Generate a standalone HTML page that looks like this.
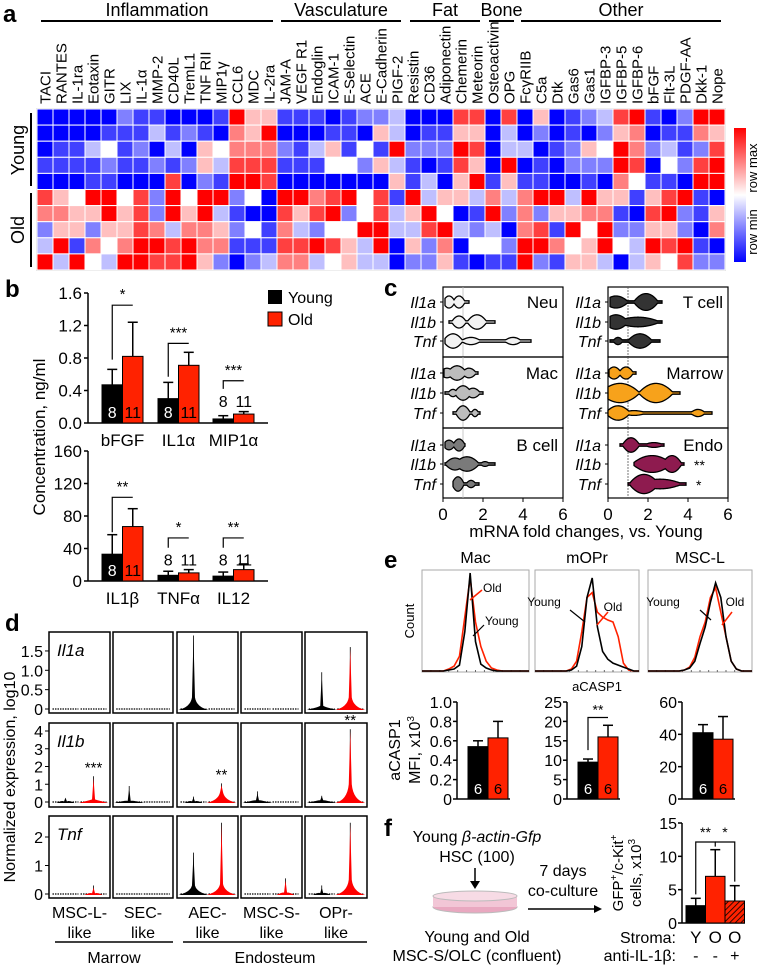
<!DOCTYPE html>
<html><head><meta charset="utf-8"><style>
html,body{margin:0;padding:0;background:#fff;}
svg{display:block;font-family:"Liberation Sans",Arial,sans-serif;}
</style></head><body>
<svg id="fig" width="757" height="968" viewBox="0 0 757 968" xmlns="http://www.w3.org/2000/svg">
<defs>
<pattern id="hatch" width="4" height="4" patternUnits="userSpaceOnUse" patternTransform="rotate(45)"><rect width="4" height="4" fill="#ff2200"/><line x1="0" y1="0" x2="0" y2="4" stroke="#000" stroke-width="1.6"/></pattern>
<linearGradient id="rowgrad" x1="0" y1="1" x2="0" y2="0"><stop offset="0" stop-color="#0000ff"/><stop offset="0.5" stop-color="#ffffff"/><stop offset="1" stop-color="#ff0000"/></linearGradient>
</defs>
<g id="root"></g>
</svg>
<script>
// ===== Panel a data =====
const heatCols=["TACI","RANTES","IL-1ra","Eotaxin","GITR","LIX","IL-1\u03b1","MMP-2","CD40L","TremL1","TNF RII","MIP1\u03b3","CCL6","MDC","IL-2ra","JAM-A","VEGF R1","Endoglin","ICAM-1","E-Selectin","ACE","E-Cadherin","PIGF-2","Resistin","CD36","Adiponectin","Chemerin","Meteorin","Osteoactivin","OPG","Fc\u03b3RIIB","C5a","Dtk","Gas6","Gas1","IGFBP-3","IGFBP-5","IGFBP-6","bFGF","Flt-3L","PDGF-AA","Dkk-1","Nope"];
const heatRows=["Y1","Y2","Y3","Y4","Y5","O1","O2","O3","O4","O5"];
const heatVals=[
[0,0,0,0,0,2,1,1,0,0,0,1,8,5,5,1,1,1,0,1,2,2,3,0,0,0,7,7,0,7,0,5,0,1,2,3,7,8,1,0,2,8,8],
[0,0,0,0,1,1,1,3,1,2,1,0,6,5,8,0,0,0,1,1,0,5,3,0,1,1,5,5,0,3,0,2,0,1,0,2,5,6,0,1,1,6,5],
[0,1,1,3,4,1,2,0,3,0,5,4,6,6,6,2,1,3,5,1,4,1,8,2,2,2,8,7,0,3,3,0,1,2,5,4,8,6,2,3,1,2,7],
[1,1,1,1,2,1,1,2,1,2,5,3,7,7,7,1,1,1,4,4,2,5,3,1,0,1,7,5,0,8,0,1,0,2,2,2,8,7,0,4,2,7,8],
[0,0,0,1,1,0,0,0,7,0,2,1,8,8,7,0,0,0,0,0,0,0,5,1,3,0,5,8,1,5,1,1,0,0,1,0,6,4,1,1,0,8,8],
[7,5,4,8,8,4,7,2,8,4,8,8,2,4,0,8,8,6,7,8,4,7,1,8,3,5,5,3,6,3,6,8,8,3,8,5,5,1,5,7,8,1,0],
[6,6,5,5,8,5,7,2,8,5,8,3,1,0,0,7,5,7,8,2,4,7,3,5,8,4,0,1,8,2,6,2,5,5,6,6,1,0,7,8,2,1,5],
[2,5,5,2,5,5,7,6,3,6,6,5,2,4,1,6,3,2,4,4,8,8,3,3,7,8,3,2,3,0,6,7,1,8,4,8,2,2,5,5,2,0,6],
[3,8,1,6,4,6,8,8,7,8,6,6,1,1,1,7,7,8,7,5,3,8,0,5,2,6,0,4,4,2,8,8,6,4,5,8,4,3,8,7,8,1,0],
[8,3,8,4,3,8,8,7,7,8,5,2,0,2,3,6,6,3,4,5,3,3,0,2,2,5,1,0,1,1,8,2,1,5,5,3,0,3,5,4,7,2,2]];
const heatGroups=["Inflammation","Vasculature","Fat","Bone","Other"];
const heatGroupSizes=[15,8,5,2,13];
// ===== Panel b data =====
const bCatsTop=["bFGF","IL1\u03b1","MIP1\u03b1"];
const bYoungTop=[0.47,0.30,0.05];
const bYoungTopErr=[0.19,0.20,0.04];
const bOldTop=[0.82,0.71,0.11];
const bOldTopErr=[0.42,0.16,0.03];
const bTicksTop=["0.0","0.4","0.8","1.2","1.6"];
const bStarsTop=["*","***","***"];
const bBracketTop=[1.45,0.98,0.52];
const bBracketStartTop=[0.78,0.57,0.42];
const bCatsBot=["IL1\u03b2","TNF\u03b1","IL12"];
const bYoungBot=[33,7,6];
const bYoungBotErr=[24,5,5];
const bOldBot=[67,10,14];
const bOldBotErr=[22,4,7];
const bTicksBot=["0","40","80","120","160"];
const bStarsBot=["**","*","**"];
const bBracketBot=[103,53,53];
const bBracketStartBot=[60,41,41];
const bN=["8","11"];
// ===== Panel c data: [min,max, bulges [center, halfHeightPx, halfWidth]] =====
const cPanels=["Neu","Mac","B cell","T cell","Marrow","Endo"];
const cGenes=["Il1a","Il1b","Tnf"];
const cRange=[
[[0.1,1.3],[0.3,2.6],[0.1,4.4]],
[[0.05,1.75],[0.1,2.0],[0.5,1.85]],
[[0.1,1.1],[0.1,2.6],[0.5,1.8]],
[[0.1,2.7],[0.1,2.7],[0.1,2.6]],
[[0.05,1.4],[0.0,3.6],[0.0,5.2]],
[[0.6,2.8],[1.3,3.8],[1.0,3.9]]];
const cBulges=[
[[[0.3,5,0.25],[0.8,5,0.25]],[[0.8,5,0.3],[1.7,6,0.4]],[[0.5,6,0.4],[1.4,3,0.4],[3.5,3,0.35]]],
[[[0.2,4,0.3],[0.7,6,0.4],[1.3,4,0.3]],[[0.5,3,0.2],[1.0,6,0.35],[1.5,4,0.3]],[[1.0,6,0.3],[1.6,3,0.15]]],
[[[0.3,4,0.25],[0.8,5,0.25]],[[0.6,5,0.4],[1.2,6,0.5],[2.1,2,0.2]],[[0.75,6,0.25],[1.4,3,0.2]]],
[[[0.4,5,0.5],[1.9,7,0.5]],[[0.4,6,0.5],[1.5,4,0.9]],[[0.5,3,0.2],[1.6,6,0.5]]],
[[[0.3,5,0.3],[0.9,5,0.3]],[[0.6,8,0.8],[2.4,8,0.7]],[[0.5,6,0.5],[1.3,2,0.5],[4.5,3,0.3]]],
[[[1.15,6,0.35],[2.3,2,0.4]],[[2.2,7,0.8],[3.2,7,0.4]],[[1.8,8,0.6],[2.6,4,0.9]]]];
const cFills=["#f2f2f2","#bdbdbd","#7a7a7a","#333333","#f7a21b","#8e1b4f"];
const cStars=[["","",""],["","",""],["","",""],["","",""],["","",""],["","**","*"]];
const cTicks=[0,2,4,6];
// ===== Panel d data =====
const dCells=["MSC-L-like","SEC-like","AEC-like","MSC-S-like","OPr-like"];
const dGenes=["Il1a","Il1b","Tnf"];
const dYTicks=[[0,0.5,1.0,1.5],[0,1,2,3,4],[0,1,2]];
const dYTickLbl=[["0","0.5","1.0","1.5"],["0","1","2","3","4"],["0","1","2"]];
const dYoungMax=[[0,0,1.9,0,0.95],[0.2,0.9,0.3,0.6,0.35],[0,0,1.45,0,0.3]];
const dYoungBase=[[0,0,0.3,0,0.08],[0.02,0.06,0.03,0.1,0.1],[0,0,0.3,0,0.03]];
const dOldMax=[[0,0,0,0,1.6],[1.45,0,1.05,0,4.1],[0.3,0,2.5,0.55,2.5]];
const dOldBase=[[0,0,0,0,0.3],[0.15,0,0.55,0,1.0],[0.02,0,0.35,0.05,0.5]];
const dStars=[["","","","",""],["***","","**","","**"],["","","","",""]];
// ===== Panel e data =====
const eTitles=["Mac","mOPr","MSC-L"];
const eHistYoung=[
[0,0,0,0,0,0.01,0.02,0.06,0.4,1.0,0.3,0.07,0.03,0.01,0,0,0,0,0,0,0],
[0,0,0,0,0,0,0,0.01,0.05,0.25,0.75,0.95,0.45,0.2,0.12,0.08,0.06,0.04,0.02,0,0],
[0,0,0,0,0,0,0,0.01,0.03,0.1,0.28,0.45,0.7,0.9,0.75,0.35,0.1,0.02,0,0,0]];
const eHistOld=[
[0,0,0,0,0,0.02,0.05,0.15,0.55,0.95,0.5,0.25,0.1,0.03,0.01,0,0,0,0,0,0],
[0,0,0,0,0,0,0,0.02,0.1,0.4,0.75,0.8,0.6,0.55,0.52,0.5,0.35,0.08,0.01,0,0],
[0,0,0,0,0,0,0,0.01,0.04,0.14,0.35,0.5,0.75,0.85,0.6,0.35,0.1,0.02,0,0,0]];
const eYoung=[0.54,9.5,41];
const eYoungErr=[0.06,0.8,5];
const eOld=[0.63,16,37];
const eOldErr=[0.17,3,14];
const eMax=[1.0,25,60];
const eTicks=[["0","0.2","0.4","0.6","0.8","1.0"],["0","5","10","15","20","25"],["0","20","40","60"]];
const eN=["6","6"];
// ===== Panel f data =====
const fCats=["Y","O","O"];
const fAnti=["-","-","+"];
const fVals=[2.6,7.0,3.3];
const fErr=[1.1,4.0,2.3];
const fTicks=["0","5","10","15"];

const NS="http://www.w3.org/2000/svg";
const root=document.getElementById('root');
function mk(tag,attrs,parent,text){const e=document.createElementNS(NS,tag);for(const k in attrs)e.setAttribute(k,attrs[k]);if(text!==undefined)e.textContent=text;(parent||root).appendChild(e);return e;}
function grp(name,parent){const g=mk('g',{},parent);


return g;}
function txt(p,x,y,s,size,opts){const o=Object.assign({x:x,y:y,'font-size':size,fill:'#000'},opts||{});return mk('text',o,p,s);}

// panel letters
[["a",3,22],["b",5,297],["c",384,296],["d",5,631],["e",384,568],["f",384,836]].forEach(l=>{
const t=txt(root,l[1],l[2],l[0],24,{'font-weight':'bold'});


});

// ===== Panel a =====
(function(){
const g=grp('heatmap-panel');
const x0=37,y0=109,cw=16,rh=16.1;
function col(v){const t=v/8;let r,gg,b;if(t<0.5){const s=t/0.5;r=Math.round(255*s);gg=Math.round(255*s);b=255;}else{const s=(t-0.5)/0.5;r=255;gg=Math.round(255*(1-s));b=Math.round(255*(1-s));}return `rgb(${r},${gg},${b})`;}
mk('rect',{x:x0-1,y:y0-1,width:cw*heatCols.length+2,height:rh*10+2,fill:'#ddd'},g);
heatVals.forEach((row,ri)=>row.forEach((v,ci)=>{
const r=mk('rect',{x:x0+ci*cw,y:y0+ri*rh,width:cw,height:rh,fill:col(v),stroke:'#fff','stroke-width':1},g);


}));
heatCols.forEach((c,i)=>{
const t=txt(g,0,0,c,15,{transform:`translate(${x0+i*cw+cw/2+5.5},104) rotate(-90)`});


});
const gaps=[[41,273],[281,401],[410,480],[489,514],[521,721]];
heatGroups.forEach((name,i)=>{
const a=gaps[i][0],b=gaps[i][1];
mk('line',{x1:a,x2:b,y1:21,y2:21,stroke:'#000','stroke-width':2},g);
const t=txt(g,(a+b)/2,16,name,18,{'text-anchor':'middle'});


});
mk('line',{x1:31,x2:31,y1:113,y2:186,stroke:'#000','stroke-width':2},g);
mk('line',{x1:31,x2:31,y1:193,y2:267,stroke:'#000','stroke-width':2},g);
const ty=txt(g,0,0,'Young',18,{transform:'translate(24,150) rotate(-90)','text-anchor':'middle'});

const to=txt(g,0,0,'Old',18,{transform:'translate(24,230) rotate(-90)','text-anchor':'middle'});

const cb=mk('rect',{x:734,y:128,width:12,height:134,fill:'url(#rowgrad)'},g);

txt(g,0,0,'row max',13,{transform:'translate(757,168) rotate(-90)','text-anchor':'middle'});
txt(g,0,0,'row min',13,{transform:'translate(757,232) rotate(-90)','text-anchor':'middle'});
})();

// ===== Panel b =====
function barChart(g,ax,y0px,ymaxpx,maxv,cats,yv,ye,ov,oe,ticks,stars,brk,brkStart,catY){
const sy=v=>y0px-(v/maxv)*(y0px-ymaxpx);
mk('line',{x1:ax,x2:ax,y1:ymaxpx,y2:y0px,stroke:'#000','stroke-width':1.5},g);
mk('line',{x1:ax,x2:268,y1:y0px,y2:y0px,stroke:'#000','stroke-width':1.5},g);
ticks.forEach((t,i)=>{const y=sy(maxv*i/(ticks.length-1));mk('line',{x1:ax-4,x2:ax,y1:y,y2:y,stroke:'#000','stroke-width':1.5},g);txt(g,ax-6,y+6,t,17,{'text-anchor':'end'});});
const starts=[102,158,213];const bw=20.5;
cats.forEach((c,i)=>{
const xs=starts[i];
[[yv[i],ye[i],'#000',xs],[ov[i],oe[i],'#ff2200',xs+bw]].forEach((d,k)=>{
const x=d[3],top=sy(d[0]),et=sy(d[0]+d[1]);
mk('line',{x1:x+bw/2,x2:x+bw/2,y1:et,y2:top,stroke:'#000','stroke-width':1.5},g);
mk('line',{x1:x+bw/2-5,x2:x+bw/2+5,y1:et,y2:et,stroke:'#000','stroke-width':1.5},g);
const r=mk('rect',{x:x,y:top,width:bw,height:y0px-top,fill:d[2],stroke:'#000','stroke-width':1},g);


const tall=(y0px-top)>24;
if(tall)txt(g,x+bw/2,y0px-5,bN[k],16,{'text-anchor':'middle',fill:k?'#000':'#fff'});
else txt(g,x+bw/2,sy(brkStart[i])+18,bN[k],16,{'text-anchor':'middle'});
});
const ly=sy(brk[i]);
mk('polyline',{points:`${xs+bw/2},${sy(brkStart[i])} ${xs+bw/2},${ly} ${xs+bw+bw/2},${ly}`,fill:'none',stroke:'#000','stroke-width':1.2},g);
txt(g,xs+bw,ly-6,stars[i],15,{'text-anchor':'middle'});
const cl=txt(g,xs+bw,catY,c,17,{'text-anchor':'middle'});

});
}
(function(){
const g=grp('concentration-chart-top');
barChart(g,88,423,293,1.6,bCatsTop,bYoungTop,bYoungTopErr,bOldTop,bOldTopErr,bTicksTop,bStarsTop,bBracketTop,bBracketStartTop,446);
const g2=grp('concentration-chart-bottom');
barChart(g2,88,581,451,160,bCatsBot,bYoungBot,bYoungBotErr,bOldBot,bOldBotErr,bTicksBot,bStarsBot,bBracketBot,bBracketStartBot,604);
const yt=txt(root,0,0,'Concentration, ng/ml',17,{transform:'translate(45,437) rotate(-90)','text-anchor':'middle'});

const lg=grp('legend');
mk('rect',{x:268,y:290,width:14,height:14,fill:'#000'},lg);
mk('rect',{x:268,y:312,width:14,height:14,fill:'#ff2200',stroke:'#000','stroke-width':1},lg);
txt(lg,288,303,'Young',16);txt(lg,288,325,'Old',16);
})();

// ===== Panel c =====
(function(){
const g=grp('mrna-violin-panel');
const panels=[[443,563],[608,728]];
const tops=[287,357,428],bot=498;
const rowY=[[302,322,341],[373,393,413],[445,464,484]];
cPanels.forEach((pn,pi)=>{
const side=pi<3?0:1,blk=pi%3;
const [x0,x1]=panels[side];
const sx=v=>x0+v*(x1-x0)/6;
const yT=tops[blk],yB=blk<2?tops[blk+1]:bot;
mk('rect',{x:x0,y:yT,width:x1-x0,height:yB-yT,fill:'none',stroke:'#000','stroke-width':1.2},g);
mk('line',{x1:sx(1),x2:sx(1),y1:yT,y2:yB,stroke:side?'#555':'#bbb','stroke-width':0.8,'stroke-dasharray':side?'2,1':'0'},g);
const pl=txt(g,x1-5,rowY[blk][0]+6,pn,17,{'text-anchor':'end'});

cGenes.forEach((gn,gi)=>{
const y=rowY[blk][gi];
txt(g,x0-7,y+6,gn,16,{'text-anchor':'end','font-style':'italic'});
mk('line',{x1:x0-3,x2:x0,y1:y,y2:y,stroke:'#000'},g);
const [mn,mx]=cRange[pi][gi];const bl=cBulges[pi][gi];
const up=[],dn=[];
for(let k=0;k<=80;k++){const v=mn+(mx-mn)*k/80;let h=1.2;bl.forEach(b=>{const d=Math.abs(v-b[0])/(b[2]*1.15);if(d<1)h=Math.max(h,b[1]*1.2*(1-d*d*0.85));});up.push(`${sx(v)},${y-h}`);dn.unshift(`${sx(v)},${y+h}`);}
const p=mk('polygon',{points:up.concat(dn).join(' '),fill:cFills[pi],stroke:'#000','stroke-width':1.3},g);


if(cStars[pi][gi])txt(g,sx(mx)+10,y+6,cStars[pi][gi],14,{'text-anchor':'start'});
});
if(blk===2){cTicks.forEach(t=>{mk('line',{x1:sx(t),x2:sx(t),y1:bot,y2:bot+4,stroke:'#000'},g);txt(g,sx(t),bot+22,String(t),17,{'text-anchor':'middle'});});}
});
const xt=txt(g,586,537,'mRNA fold changes, vs. Young',17,{'text-anchor':'middle'});

})();

// ===== Panel d =====
(function(){
const g=grp('scrna-violin-panel');
const cols=[[49,110],[113,173],[177,238],[241,302],[305,367]];
const rows=[[632,713,709],[723,807,802],[816,898,894]];
const unit=[38.7,17.75,28.5];
dGenes.forEach((gn,ri)=>{
const [yt,yb,y0]=rows[ri];
dYTicks[ri].forEach((t,k)=>{const y=y0-t*unit[ri];mk('line',{x1:45,x2:49,y1:y,y2:y,stroke:'#000'},g);txt(g,43,y+6,dYTickLbl[ri][k],16,{'text-anchor':'end'});});
cols.forEach((c,ci)=>{
mk('rect',{x:c[0],y:yt,width:c[1]-c[0],height:yb-yt,fill:'none',stroke:'#000','stroke-width':1.5},g);
if(ci===0)txt(g,c[0]+8,yt+24,gn,17,{'font-style':'italic'});
[[dYoungMax,dYoungBase,'#000',0.27],[dOldMax,dOldBase,'#ff0000',0.73]].forEach((s,k)=>{
const cx=c[0]+(c[1]-c[0])*s[3];const mx=s[0][ri][ci],bs=s[1][ri][ci];
mk('line',{x1:cx-13,x2:cx+13,y1:y0,y2:y0,stroke:'#000','stroke-width':1.2,'stroke-dasharray':'1.5,1'},g);
if(mx>0){
const ty=y0-mx*unit[ri],by=y0-bs*unit[ri];
mk('line',{x1:cx,x2:cx,y1:ty,y2:y0,stroke:'#000','stroke-width':0.8},g);
const hw=bs>0.05?15:9;
const p=mk('path',{d:`M${cx-hw},${y0+1} Q${cx-3},${y0-2} ${cx-1.5},${by} L${cx},${Math.min(by-4,ty+2)} L${cx+1.5},${by} Q${cx+3},${y0-2} ${cx+hw},${y0+1} Z`,fill:s[2]},g);


}
if(k===1&&dStars[ri][ci])txt(g,cx,y0-mx*unit[ri]-4,dStars[ri][ci],15,{'text-anchor':'middle'});
});
});
});
cols.forEach((c,ci)=>{const parts=dCells[ci].split(/-(?=like)/);const cx=(c[0]+c[1])/2;
const t1=txt(g,cx,918,parts[0]+'-',16,{'text-anchor':'middle'});

txt(g,cx,938,'like',16,{'text-anchor':'middle'});});
mk('line',{x1:55,x2:173,y1:942,y2:942,stroke:'#000','stroke-width':1.5},g);
mk('line',{x1:183,x2:367,y1:942,y2:942,stroke:'#000','stroke-width':1.5},g);
txt(g,114,963,'Marrow',16,{'text-anchor':'middle'});
txt(g,275,963,'Endosteum',16,{'text-anchor':'middle'});
const yt=txt(g,0,0,'Normalized expression, log10',16,{transform:'translate(15,777) rotate(-90)','text-anchor':'middle'});

})();

// ===== Panel e =====
(function(){
const g=grp('acasp1-panel');
const boxes=[[422,529],[535,639],[648,752]];
const top=570,bot=672;
eTitles.forEach((t,i)=>{
const [x0,x1]=boxes[i];
const tt=txt(g,(x0+x1)/2,563,t,16,{'text-anchor':'middle'});

mk('rect',{x:x0,y:top,width:x1-x0,height:bot-top,fill:'none',stroke:'#aaa','stroke-width':1},g);
for(let k=1;k<12;k++){mk('line',{x1:x0+k*(x1-x0)/12,x2:x0+k*(x1-x0)/12,y1:bot,y2:bot-2,stroke:'#666'},g);}
[[eHistOld,'#ff2200'],[eHistYoung,'#000']].forEach((h,k)=>{
const pts=h[0][i].map((v,j)=>`${x0+(x1-x0)*j/(h[0][i].length-1)},${bot-1-v*(bot-top-4)}`).join(' ');
const pl=mk('polyline',{points:pts,fill:'none',stroke:h[1],'stroke-width':1.6},g);


});
});
txt(g,0,0,'Count',13,{transform:'translate(414,621) rotate(-90)','text-anchor':'middle'});
txt(g,597,691,'aCASP1',13,{'text-anchor':'middle'});
txt(g,483,592,'Old',12);mk('line',{x1:470,x2:482,y1:600,y2:590,stroke:'#ff2200','stroke-width':1.5},g);
txt(g,485,625,'Young',12);mk('line',{x1:473,x2:484,y1:636,y2:625,stroke:'#000','stroke-width':1.2},g);
txt(g,544,606,'Young',12,{'text-anchor':'middle'});mk('line',{x1:570,x2:585,y1:610,y2:622,stroke:'#000','stroke-width':1.2},g);
txt(g,613,611,'Old',12,{'text-anchor':'middle'});mk('line',{x1:597,x2:608,y1:625,y2:612,stroke:'#ff2200','stroke-width':1.5},g);
txt(g,663,606,'Young',12,{'text-anchor':'middle'});mk('line',{x1:700,x2:711,y1:610,y2:620,stroke:'#000','stroke-width':1.2},g);
txt(g,735,606,'Old',12,{'text-anchor':'middle'});mk('line',{x1:722,x2:732,y1:625,y2:612,stroke:'#ff2200','stroke-width':1.5},g);
const axes=[457,567,682];const y0=799,yT=702;
eTitles.forEach((t,i)=>{
const ax=axes[i];const sy=v=>y0-v/eMax[i]*(y0-yT);
mk('line',{x1:ax,x2:ax,y1:yT,y2:y0,stroke:'#000','stroke-width':1.5},g);
mk('line',{x1:ax,x2:ax+53,y1:y0,y2:y0,stroke:'#000','stroke-width':1.5},g);
eTicks[i].forEach((tk,k)=>{const y=sy(eMax[i]*k/(eTicks[i].length-1));mk('line',{x1:ax-4,x2:ax,y1:y,y2:y,stroke:'#000','stroke-width':1.5},g);txt(g,ax-5,y+6,tk,16,{'text-anchor':'end'});});
const bw=20;
[[eYoung[i],eYoungErr[i],'#000'],[eOld[i],eOldErr[i],'#ff2200']].forEach((d,k)=>{
const x=ax+11+k*bw,top2=sy(d[0]),et=sy(d[0]+d[1]);
mk('line',{x1:x+bw/2,x2:x+bw/2,y1:et,y2:top2,stroke:'#000','stroke-width':1.5},g);
mk('line',{x1:x+bw/2-5,x2:x+bw/2+5,y1:et,y2:et,stroke:'#000','stroke-width':1.5},g);
const r=mk('rect',{x:x,y:top2,width:bw,height:y0-top2,fill:d[2],stroke:'#000','stroke-width':1},g);


txt(g,x+bw/2,y0-5,eN[k],15,{'text-anchor':'middle',fill:k?'#000':'#fff'});
});
if(i===1){const ly=sy(eMax[i]*0.84);mk('polyline',{points:`${ax+21},${sy(eYoung[i])-12} ${ax+21},${ly} ${ax+41},${ly}`,fill:'none',stroke:'#000','stroke-width':1.2},g);txt(g,ax+31,ly-3,'**',14,{'text-anchor':'middle'});}
});
const y1=txt(g,0,0,'aCASP1',16,{transform:'translate(400,750) rotate(-90)','text-anchor':'middle'});

const y2=txt(g,0,0,'',16,{transform:'translate(420,750) rotate(-90)','text-anchor':'middle'});
mk('tspan',{},y2,'MFI, x10');mk('tspan',{'font-size':10,dy:-6},y2,'3');
})();

// ===== Panel f =====
(function(){
const g=grp('coculture-panel');
const t1=txt(g,477,842,'',16,{'text-anchor':'middle'});
mk('tspan',{},t1,'Young ');mk('tspan',{'font-style':'italic'},t1,'\u03b2-actin-Gfp');
txt(g,477,862,'HSC (100)',16,{'text-anchor':'middle'});
mk('line',{x1:475,x2:475,y1:868,y2:886,stroke:'#000','stroke-width':1.5},g);
mk('path',{d:'M470,881 L475,889 L480,881 Z',fill:'#000'},g);
const dish=grp('culture-dish',g);
mk('ellipse',{cx:475,cy:907,rx:42,ry:6,fill:'#e9a8c0',stroke:'#bbb'},dish);
mk('rect',{x:433,y:896,width:84,height:11,fill:'#f2c6d6',stroke:'none'},dish);
mk('ellipse',{cx:475,cy:896,rx:42,ry:5,fill:'#f7dbe5',stroke:'#bbb'},dish);
txt(g,563,876,'7 days',16,{'text-anchor':'middle'});
txt(g,563,896,'co-culture',16,{'text-anchor':'middle'});
mk('line',{x1:528,x2:597,y1:909,y2:909,stroke:'#000','stroke-width':1.5},g);
mk('path',{d:'M594,905 L602,909 L594,913 Z',fill:'#000'},g);
txt(g,477,942,'Young and Old',16,{'text-anchor':'middle'});
txt(g,477,961,'MSC-S/OLC (confluent)',16,{'text-anchor':'middle'});
const ax=682,y0=923,yT=823,mx=15;const sy=v=>y0-v/mx*(y0-yT);
mk('line',{x1:ax,x2:ax,y1:yT,y2:y0,stroke:'#000','stroke-width':1.5},g);
mk('line',{x1:ax,x2:745,y1:y0,y2:y0,stroke:'#000','stroke-width':1.5},g);
fTicks.forEach((t,k)=>{const y=sy(mx*k/(fTicks.length-1));mk('line',{x1:ax-4,x2:ax,y1:y,y2:y,stroke:'#000','stroke-width':1.5},g);txt(g,ax-5,y+6,t,16,{'text-anchor':'end'});});
const fills=['#000','#ff2200','url(#hatch)'];const bw=19.5;
fVals.forEach((v,i)=>{const x=ax+4+i*bw,top=sy(v),et=sy(v+fErr[i]);
mk('line',{x1:x+bw/2,x2:x+bw/2,y1:et,y2:top,stroke:'#000','stroke-width':1.5},g);
mk('line',{x1:x+bw/2-5,x2:x+bw/2+5,y1:et,y2:et,stroke:'#000','stroke-width':1.5},g);
const r=mk('rect',{x:x,y:top,width:bw,height:y0-top,fill:fills[i],stroke:'#000','stroke-width':1},g);

txt(g,x+bw/2,943,fCats[i],17,{'text-anchor':'middle'});
txt(g,x+bw/2,961,fAnti[i],16,{'text-anchor':'middle'});
});
const by=842;
mk('polyline',{points:`${ax+4+bw/2},${sy(fVals[0]+fErr[0])-4} ${ax+4+bw/2},${by} ${ax+4+bw*1.5},${by} ${ax+4+bw*1.5},${sy(fVals[1]+fErr[1])-3}`,fill:'none',stroke:'#000','stroke-width':1.2},g);
mk('polyline',{points:`${ax+4+bw*1.5},${by} ${ax+4+bw*2.5},${by} ${ax+4+bw*2.5},${sy(fVals[2]+fErr[2])-4}`,fill:'none',stroke:'#000','stroke-width':1.2},g);
txt(g,ax+4+bw,by-5,'**',14,{'text-anchor':'middle'});
txt(g,ax+4+bw*2,by-5,'*',14,{'text-anchor':'middle'});
txt(g,676,943,'Stroma:',16,{'text-anchor':'end'});
txt(g,676,961,'anti-IL-1\u03b2:',16,{'text-anchor':'end'});
const y1=txt(g,0,0,'',15,{transform:'translate(623,873) rotate(-90)','text-anchor':'middle'});

mk('tspan',{},y1,'GFP');mk('tspan',{'font-size':10,dy:-6},y1,'+');mk('tspan',{dy:6},y1,'/c-Kit');mk('tspan',{'font-size':10,dy:-6},y1,'+');
const y2=txt(g,0,0,'',15,{transform:'translate(641,873) rotate(-90)','text-anchor':'middle'});
mk('tspan',{},y2,'cells, x10');mk('tspan',{'font-size':10,dy:-6},y2,'3');
})();
</script>
</body></html>
